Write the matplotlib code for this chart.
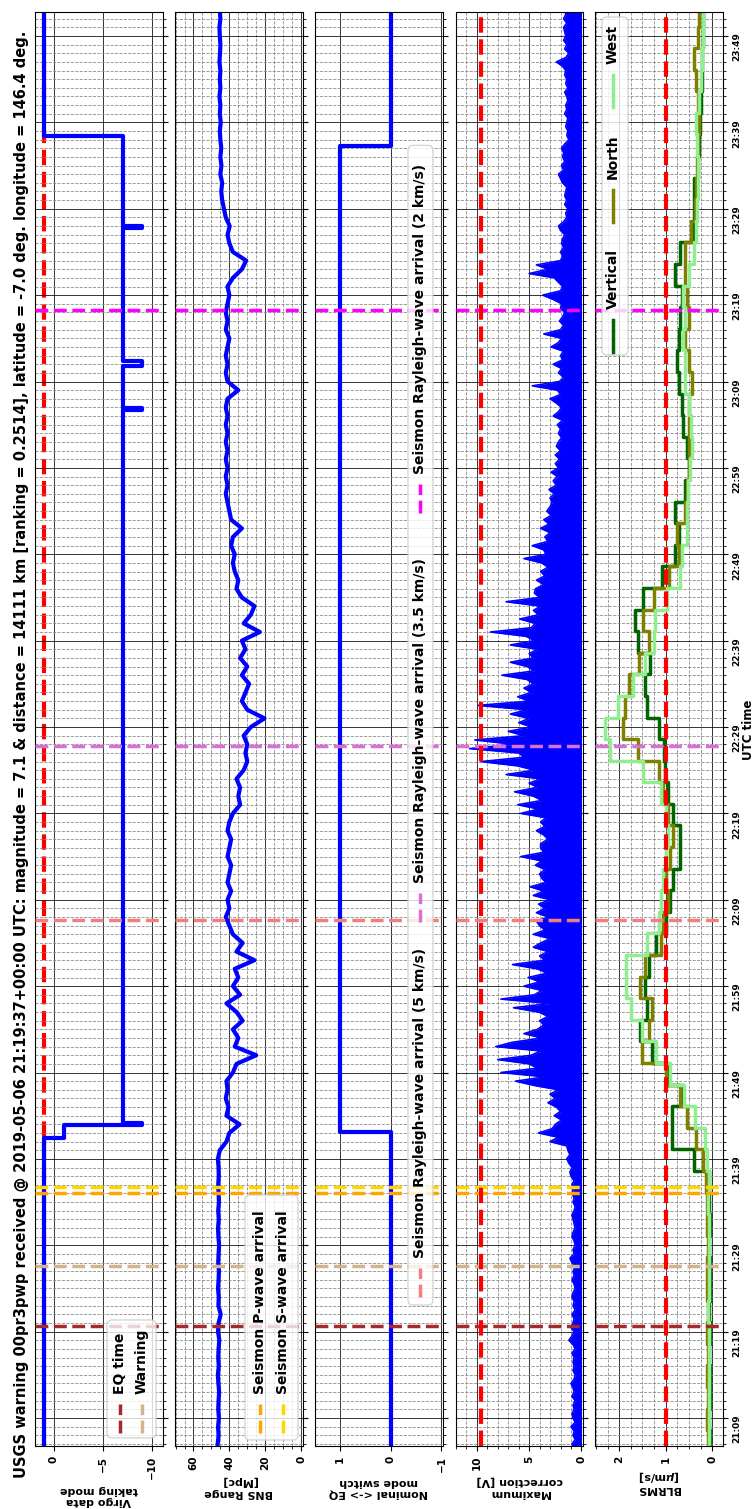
import numpy as np
import matplotlib
matplotlib.use("Agg")
import matplotlib.pyplot as plt
from matplotlib.patches import FancyBboxPatch
from matplotlib.ticker import FixedLocator, MultipleLocator, NullLocator

plt.rcParams["font.family"] = "DejaVu Sans"
plt.rcParams["font.weight"] = "bold"
plt.rcParams["axes.labelweight"] = "bold"

TITLE = ("USGS warning 00pr3pwp received @ 2019-05-06 21:19:37+00:00 UTC: magnitude = 7.1 & "
         "distance = 14111 km [ranking = 0.2514], latitude = -7.0 deg. longitude = 146.4 deg.")

# all times are minutes after 2019-05-06 21:00 UTC
time_ticks = [9, 19, 29, 39, 49, 59, 69, 79, 89, 99, 109, 119, 129, 139, 149, 159, 169]
time_labels = ["21:09", "21:19", "21:29", "21:39", "21:49", "21:59", "22:09", "22:19", "22:29",
               "22:39", "22:49", "22:59", "23:09", "23:19", "23:29", "23:39", "23:49"]
t_lim = (5.76, 171.78)

event_names = ["EQ time", "Warning", "Seismon P-wave arrival", "Seismon S-wave arrival",
               "Seismon Rayleigh-wave arrival (5 km/s)", "Seismon Rayleigh-wave arrival (3.5 km/s)",
               "Seismon Rayleigh-wave arrival (2 km/s)"]
event_times = [19.62, 26.6, 35.05, 35.7, 66.7, 86.75, 137.3]
event_colors = ["brown", "tan", "orange", "gold", "lightcoral", "orchid", "magenta"]

# Virgo data taking mode: change times and new values
virgo_t = [5.5, 41.42, 42.96, 43.15, 125.7, 125.9, 130.75, 131.35, 146.75, 146.95, 157.4, 172.5]
virgo_v = [1, -1, -9, -7, -9, -7, -9, -7, -9, -7, 1, 1]
virgo_threshold = 1

# BNS range [Mpc], one sample per minute from t = 6
bns_t0 = 6.0
bns = [46.5, 46.0, 46.3, 45.8, 46.2, 46.0, 45.7, 46.1, 46.4, 45.9,
       46.2, 46.0, 45.6, 46.3, 46.0, 44.8, 46.1, 45.9, 46.3, 46.0,
       45.8, 46.2, 46.0, 45.7, 46.1, 46.3, 45.9, 46.2, 45.8, 46.0,
       46.2, 45.9, 46.0, 46.4, 45.3, 41.6, 40.0, 34.3, 41.6, 40.5,
       42.0, 41.0, 41.6, 38.0, 36.0, 25.0, 37.0, 35.0, 38.0, 32.6,
       36.0, 41.6, 34.0, 38.0, 35.0, 37.0, 26.0, 36.0, 32.6, 38.0,
       40.0, 42.0, 40.0, 41.0, 39.0, 41.0, 40.0, 39.0, 41.0, 40.0,
       39.0, 41.0, 40.0, 38.0, 34.0, 35.0, 34.0, 36.0, 32.0, 30.0,
       31.0, 30.0, 32.0, 28.0, 20.4, 30.0, 33.0, 31.0, 29.0, 33.0,
       30.0, 34.0, 31.0, 33.0, 23.0, 32.0, 28.0, 26.0, 33.0, 36.0,
       35.0, 37.0, 38.0, 37.0, 39.0, 38.0, 33.0, 39.0, 40.0, 41.0,
       42.0, 41.0, 42.0, 41.0, 42.0, 41.0, 42.0, 41.0, 42.0, 41.0,
       42.0, 41.0, 35.0, 41.0, 42.0, 41.0, 42.0, 41.0, 40.0, 42.0,
       41.0, 42.0, 41.0, 40.0, 41.0, 38.0, 33.0, 30.6, 38.0, 40.0,
       41.0, 39.8, 42.0, 43.0, 44.0, 44.5, 44.0, 45.0, 44.4, 45.0,
       44.5, 45.0, 45.3, 44.8, 45.3, 45.0, 45.5, 45.0, 45.3, 45.0,
       45.5, 45.2, 45.0, 45.3, 45.5, 45.0, 45.3]

# Nominal <-> EQ mode switch: change times and new values
mode_t = [5.5, 42.07, 156.3, 172.5]
mode_v = [0, 1, 0, 0]

# maximum correction [V], one value every 30 s from t = 5.5
corr_t0 = 5.5
corr = [0.7, 0.9, 0.6, 0.8, 0.7, 1.0, 0.6, 0.8, 0.9, 0.7, 0.8, 0.6, 0.9, 0.7, 0.8, 1.0, 0.7, 0.6, 0.8, 0.7,
        0.8, 0.7, 0.9, 0.6, 0.8, 1.2, 0.9, 0.7, 1.0, 0.8, 0.7, 0.9, 0.6, 0.8, 0.7, 0.9, 0.8, 0.6, 0.7, 0.9,
        0.7, 0.8, 0.6, 0.9, 1.1, 0.7, 0.8, 0.6, 0.7, 0.9, 0.8, 0.6, 0.7, 0.8, 0.9, 0.7, 0.6, 0.8, 0.7, 0.9,
        0.8, 0.9, 0.7, 1.0, 1.1, 0.9, 1.2, 1.4, 1.1, 1.3, 1.4, 3.0, 2.2, 4.1, 2.8, 2.5, 1.9, 2.6, 2.0, 2.4,
        3.2, 2.5, 3.0, 2.2, 4.5, 6.3, 3.5, 7.7, 4.2, 5.0, 8.0, 4.8, 3.9, 8.2, 6.6, 3.8, 5.5, 4.2, 3.6, 4.0,
        3.2, 4.1, 6.5, 3.0, 7.7, 4.5, 3.8, 5.5, 4.0, 5.1, 3.3, 4.2, 6.6, 3.5, 4.0, 3.2, 4.6, 3.9, 3.0, 4.6,
        3.5, 4.0, 4.3, 3.2, 4.3, 3.5, 4.1, 3.0, 4.6, 3.6, 4.9, 3.4, 3.8, 4.0, 3.5, 4.4, 3.8, 5.8, 3.6, 3.9,
        3.9, 3.2, 3.6, 4.3, 3.5, 3.9, 3.4, 5.8, 4.1, 6.1, 3.8, 4.6, 6.4, 4.2, 5.0, 3.9, 7.2, 4.5, 6.1, 9.6,
        5.5, 6.0, 10.7, 6.5, 10.2, 5.5, 7.0, 4.8, 6.0, 5.0, 6.8, 5.2, 9.9, 5.0, 6.1, 4.8, 5.5, 4.6, 5.2, 7.6,
        4.5, 5.2, 6.8, 4.6, 5.0, 4.2, 6.8, 4.5, 5.3, 8.7, 4.8, 4.4, 5.9, 4.1, 4.6, 3.9, 7.2, 4.0, 4.5, 4.4,
        3.6, 4.3, 3.5, 3.9, 3.2, 3.8, 5.5, 3.4, 3.6, 4.7, 3.2, 3.5, 3.0, 3.9, 3.1, 3.6, 2.9, 3.3, 3.0, 2.8,
        3.0, 2.6, 3.1, 2.4, 2.7, 2.3, 2.9, 2.2, 2.5, 2.1, 2.5, 2.0, 2.4, 2.2, 1.9, 2.2, 2.0, 2.3, 1.8, 2.7,
        2.2, 1.9, 2.4, 3.0, 2.0, 2.3, 4.7, 2.1, 1.7, 2.2, 1.9, 2.7, 1.8, 2.0, 1.7, 2.9, 2.2, 1.9, 3.6, 2.0,
        1.7, 2.1, 1.8, 1.6, 2.0, 1.9, 2.7, 3.7, 2.0, 1.8, 2.2, 2.6, 5.0, 3.2, 4.3, 2.0, 1.8, 2.0, 1.7, 1.9,
        1.8, 1.6, 2.0, 2.2, 1.7, 1.4, 1.5, 1.3, 1.6, 1.4, 1.6, 1.5, 1.4, 1.8, 2.0, 2.2, 1.7, 1.9, 1.6, 1.8,
        1.7, 1.9, 1.6, 1.2, 1.4, 1.3, 1.5, 1.4, 1.3, 1.6, 1.4, 1.5, 1.3, 1.4, 1.6, 1.3, 1.5, 1.4, 1.6, 1.5,
        1.8, 2.4, 1.5, 1.2, 1.6, 1.4, 1.7, 1.5, 1.6, 1.7, 1.4, 1.7, 1.5, 1.6]
corr_threshold = 9.6

# BLRMS [um/s], 150 s bins starting at t = 5.1
blrms_t0 = 5.1
blrms_vertical = [0.05, 0.06, 0.05, 0.05, 0.06, 0.05, 0.06, 0.05, 0.05, 0.06, 0.05, 0.06, 0.07,
                  0.40, 0.87, 0.87, 0.62, 0.95, 1.30, 1.55, 1.40, 1.45, 1.35, 1.20, 1.00, 0.90,
                  0.85, 0.70, 0.70, 0.85, 0.95, 1.01, 1.04, 1.15, 1.41, 1.45, 1.33, 1.60, 1.66,
                  1.48, 1.08, 0.80, 0.72, 0.80, 0.58, 0.50, 0.54, 0.62, 0.65, 0.72, 0.76, 0.72,
                  0.69, 0.65, 0.80, 0.69, 0.42, 0.40, 0.40, 0.30, 0.28, 0.26, 0.25, 0.22, 0.22,
                  0.20, 0.20]
blrms_north = [0.10, 0.11, 0.10, 0.12, 0.10, 0.11, 0.10, 0.12, 0.11, 0.10, 0.12, 0.11, 0.13,
               0.20, 0.36, 0.55, 0.70, 1.00, 1.50, 1.35, 1.30, 1.55, 1.45, 1.10, 1.05, 0.95,
               1.00, 0.90, 0.85, 0.95, 1.05, 1.15, 1.59, 1.91, 1.87, 1.80, 1.58, 1.37, 1.48,
               1.26, 0.94, 0.72, 0.76, 0.58, 0.55, 0.50, 0.50, 0.50, 0.50, 0.43, 0.50, 0.58,
               0.50, 0.54, 0.58, 0.58, 0.45, 0.38, 0.35, 0.32, 0.30, 0.28, 0.30, 0.35, 0.40,
               0.30, 0.28]
blrms_west = [0.08, 0.07, 0.08, 0.08, 0.07, 0.08, 0.09, 0.08, 0.07, 0.08, 0.08, 0.09, 0.08,
              0.12, 0.15, 0.37, 0.60, 0.90, 1.20, 1.50, 1.75, 1.85, 1.85, 1.40, 1.15, 1.10,
              1.05, 1.00, 0.95, 1.00, 1.10, 1.48, 2.20, 2.30, 2.02, 1.70, 1.45, 1.26, 1.22,
              0.98, 0.69, 0.65, 0.55, 0.54, 0.52, 0.48, 0.43, 0.46, 0.50, 0.58, 0.58, 0.62,
              0.58, 0.62, 0.50, 0.40, 0.35, 0.33, 0.30, 0.30, 0.32, 0.36, 0.28, 0.25, 0.22,
              0.20, 0.20]
blrms_names = ["Vertical", "North", "West"]
blrms_colors = ["darkgreen", "olive", "lightgreen"]
blrms_threshold = 1.0

# panel settings: label, value limits (drawn right to left), major step, minor step
panel_labels = ["Virgo data\ntaking mode", "BNS Range\n[Mpc]", "Nominal <-> EQ\nmode switch",
                "Maximum\ncorrection [V]", "BLRMS\n[$\\mu$m/s]"]
panel_lims = [(1.9, -11.05), (70.3, -0.8), (1.5, -1.02), (12.0, -0.2), (2.52, -0.22)]
panel_major = [5, 20, 1, 5, 1]
panel_minor = [None, 5, None, 1, 0.25]

W, H = 756, 1509
LEFTS = [35, 175, 315, 456, 595]
AX_W, AX_H, AX_B = 127.5, 1434, 63


def rot_legend(ax, box, entries, handle_len, dashed=True):
    x0, y0, x1, y1 = box
    ax.add_patch(FancyBboxPatch((x0, y0), x1 - x0, y1 - y0,
                                boxstyle="round,pad=0,rounding_size=0.04",
                                mutation_aspect=AX_W / AX_H, transform=ax.transAxes,
                                facecolor="white", edgecolor="0.8", alpha=0.8, lw=1,
                                zorder=6, clip_on=False))
    for label, color, x, y in entries:
        ax.plot([x, x], [y, y + handle_len], transform=ax.transAxes, color=color,
                ls="--" if dashed else "-", lw=2.5, zorder=7, clip_on=False)
        ax.text(x, y + handle_len + 0.0075, label, rotation=90, ha="center", va="bottom",
                transform=ax.transAxes, fontsize=10, fontweight="bold", zorder=7)


fig = plt.figure(figsize=(W / 100, H / 100), dpi=100)
axes = [fig.add_axes([l / W, AX_B / H, AX_W / W, AX_H / H]) for l in LEFTS]

for i, ax in enumerate(axes):
    for t, c in zip(event_times, event_colors):
        ax.axhline(t, color=c, ls="--", lw=2.5, zorder=3)
    ax.set_ylim(*t_lim)
    ax.set_xlim(*panel_lims[i])
    ax.yaxis.set_major_locator(FixedLocator(time_ticks))
    ax.yaxis.set_minor_locator(MultipleLocator(1))
    ax.xaxis.set_major_locator(MultipleLocator(panel_major[i]))
    if panel_minor[i]:
        ax.xaxis.set_minor_locator(MultipleLocator(panel_minor[i]))
        ax.grid(which="minor", axis="x", color="0.55", ls="--", lw=0.6)
    else:
        ax.xaxis.set_minor_locator(NullLocator())
    ax.grid(which="major", axis="both", color="k", ls="-", lw=0.7, alpha=0.8)
    ax.grid(which="minor", axis="y", color="0.55", ls="--", lw=0.6)
    ax.yaxis.tick_right()
    ax.tick_params(axis="y", which="both", right=True, left=False, labelright=(i == 4),
                   labelrotation=90, labelsize=6.5)
    ax.tick_params(axis="x", labelrotation=90, labelsize=7.5)
    ax.set_xlabel(panel_labels[i], rotation=180, fontsize=8, fontweight="bold")

axes[4].set_yticklabels(time_labels)

# Virgo data taking mode
ax = axes[0]
ax.axvline(virgo_threshold, color="red", ls="--", lw=3, zorder=1.5)
ax.plot(virgo_v, virgo_t, drawstyle="steps-pre", color="blue", lw=3, zorder=2)

# BNS range
ax = axes[1]
bns_times = bns_t0 + np.arange(len(bns))
ax.plot(bns, bns_times, color="blue", lw=3, zorder=2)

# mode switch
ax = axes[2]
ax.plot(mode_v, mode_t, drawstyle="steps-pre", color="blue", lw=3, zorder=2)

# maximum correction
ax = axes[3]
corr_times = corr_t0 + 0.5 * np.arange(len(corr))
ax.fill_betweenx(corr_times, 0, corr, color="blue", lw=0, zorder=2)
ax.plot(corr, corr_times, color="blue", lw=1.2, zorder=2)
ax.axvline(corr_threshold, color="red", ls="--", lw=3, zorder=4)

# BLRMS
ax = axes[4]
for vals, c in zip([blrms_vertical, blrms_north, blrms_west], blrms_colors):
    edges = blrms_t0 + 2.5 * np.arange(len(vals) + 1)
    ax.plot(np.append(vals, vals[-1]), edges, drawstyle="steps-pre", color=c, lw=2.5, zorder=2)
ax.axvline(blrms_threshold, color="red", ls="--", lw=3, zorder=4)

# legends, drawn in the rotated frame
hl = 0.02
rot_legend(axes[0], (0.565, 0.0056, 0.949, 0.0879),
           [(event_names[0], event_colors[0], 0.667, 0.0091),
            (event_names[1], event_colors[1], 0.839, 0.0091)], hl)
rot_legend(axes[1], (0.549, 0.0042, 0.965, 0.175),
           [(event_names[2], event_colors[2], 0.667, 0.0091),
            (event_names[3], event_colors[3], 0.847, 0.0091)], hl)
rot_legend(axes[2], (0.729, 0.0983, 0.925, 0.907),
           [(event_names[4], event_colors[4], 0.824, 0.1039),
            (event_names[5], event_colors[5], 0.824, 0.3654),
            (event_names[6], event_colors[6], 0.824, 0.6506)], hl)
rot_legend(axes[4], (0.055, 0.7608, 0.259, 0.9965),
           [(blrms_names[0], blrms_colors[0], 0.141, 0.7629),
            (blrms_names[1], blrms_colors[1], 0.141, 0.8536),
            (blrms_names[2], blrms_colors[2], 0.141, 0.9338)], 0.0223, dashed=False)

fig.text(22 / W, 0.5, TITLE, rotation=90, ha="center", va="center", fontsize=10.5, fontweight="bold")
fig.text(748 / W, 1 - 730 / H, "UTC time", rotation=90, ha="center", va="center",
         fontsize=8.5, fontweight="bold")

fig.savefig("out.png", dpi=100)
